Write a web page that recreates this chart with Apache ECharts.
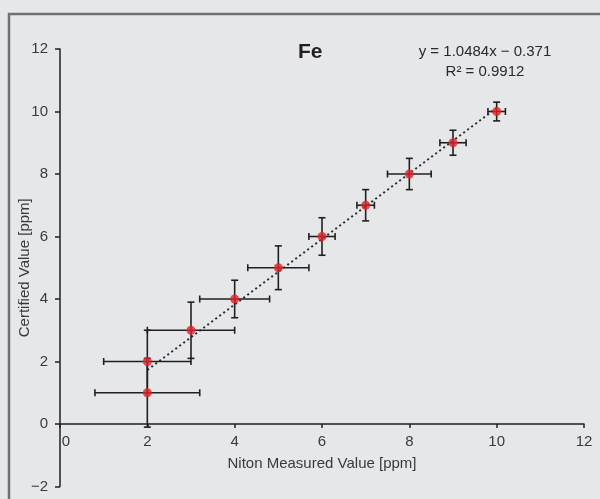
<!DOCTYPE html>
<html>
<head>
<meta charset="utf-8">
<script src="https://cdn.jsdelivr.net/npm/echarts@6/dist/echarts.min.js"></script>
<style>
  html, body { margin: 0; padding: 0; background: #e6e7e8; }
  #chart { width: 600px; height: 499px; }
</style>
</head>
<body>
<div id="chart"></div>
<script>
// Fe calibration: Niton measured vs certified values, with uncertainty on both axes
const measured  = [10, 9, 8, 7, 6, 5, 4, 3, 2, 2];
const certified = [10, 9, 8, 7, 6, 5, 4, 3, 2, 1];
const measuredErr  = [0.2, 0.3, 0.5, 0.2, 0.3, 0.7, 0.8, 1.0, 1.0, 1.2];
const certifiedErr = [0.3, 0.4, 0.5, 0.5, 0.6, 0.7, 0.6, 0.9, 1.0, 1.1];
const xTicks = [0, 2, 4, 6, 8, 10, 12];
const yTicks = [-2, 0, 2, 4, 6, 8, 10, 12];

// least-squares fit of certified on measured
const n = measured.length;
const mx = measured.reduce((a, b) => a + b, 0) / n;
const my = certified.reduce((a, b) => a + b, 0) / n;
let sxx = 0, sxy = 0, syy = 0;
for (let i = 0; i < n; i++) {
  const dx = measured[i] - mx, dy = certified[i] - my;
  sxx += dx * dx; sxy += dx * dy; syy += dy * dy;
}
const slope = sxy / sxx;
const intercept = my - slope * mx;
const r2 = (sxy * sxy) / (sxx * syy);
const xMinFit = Math.min(...measured), xMaxFit = Math.max(...measured);
const fitLine = [[xMinFit, slope * xMinFit + intercept], [xMaxFit, slope * xMaxFit + intercept]];
const eqText = 'y = ' + slope.toFixed(4) + 'x ' + (intercept < 0 ? '\u2212 ' : '+ ') + Math.abs(intercept).toFixed(3);
const r2Text = 'R\u00b2 = ' + r2.toFixed(4);

const FONT = '"Liberation Sans", Arial, sans-serif';
const INK = '#231f20';
const TXT = '#3a3a3a';
const points = measured.map((x, i) => [x, certified[i]]);
const errData = measured.map((x, i) => [x, certified[i], measuredErr[i], certifiedErr[i]]);

const chart = echarts.init(document.getElementById('chart'), null, { renderer: 'canvas' });
chart.setOption({
  backgroundColor: '#e6e7e8',
  animation: false,
  grid: { left: 60, right: 16, top: 49, bottom: 12.5, containLabel: false, outerBoundsMode: 'none' },
  xAxis: {
    type: 'value', min: xTicks[0], max: xTicks[xTicks.length - 1], interval: 2,
    // the axis line sits on y = 0; labels and name are pulled up from the grid edge to follow it
    name: 'Niton Measured Value [ppm]', nameLocation: 'middle', nameGap: -30, nameMoveOverlap: false,
    nameTextStyle: { fontFamily: FONT, fontSize: 15, color: TXT },
    axisLine: { onZero: true, lineStyle: { color: INK, width: 1.5 } },
    axisTick: { show: true, length: 4, lineStyle: { color: INK, width: 1.5 } },
    axisLabel: {
      fontFamily: FONT, fontSize: 15, color: TXT, margin: -52,
      formatter: v => v === 0 ? '{z|0}' : String(v),
      rich: { z: { fontFamily: FONT, fontSize: 15, color: TXT, padding: [0, 0, 0, 12] } }
    },
    splitLine: { show: false }
  },
  yAxis: {
    type: 'value', min: yTicks[0], max: yTicks[yTicks.length - 1], interval: 2,
    name: 'Certified Value [ppm]', nameLocation: 'middle', nameGap: 28, nameMoveOverlap: false,
    nameTextStyle: { fontFamily: FONT, fontSize: 15, color: TXT },
    axisLine: { show: true, onZero: false, lineStyle: { color: INK, width: 1.5 } },
    axisTick: { show: true, length: 5, lineStyle: { color: INK, width: 1.5 } },
    axisLabel: {
      fontFamily: FONT, fontSize: 15, color: TXT, margin: 12,
      formatter: v => v < 0 ? '\u2212' + Math.abs(v) : String(v)
    },
    splitLine: { show: false }
  },
  graphic: [
    { type: 'rect', z: -1, silent: true,
      shape: { x: 9, y: 14, width: 640, height: 540 },
      style: { fill: 'none', stroke: '#6f7072', lineWidth: 2.5 } },
    { type: 'text', left: 298, top: 42,
      style: { text: 'Fe', font: 'bold 21px ' + FONT, fill: INK } },
    { type: 'text', x: 485, y: 52,
      style: { text: eqText, font: '15px ' + FONT, fill: '#2a2a2a', align: 'center', verticalAlign: 'middle' } },
    { type: 'text', x: 485, y: 72,
      style: { text: r2Text, font: '15px ' + FONT, fill: '#2a2a2a', align: 'center', verticalAlign: 'middle' } }
  ],
  series: [
    {
      type: 'line', data: fitLine, showSymbol: false, silent: true, z: 2,
      lineStyle: { color: '#2b2b2b', width: 2, type: [2, 3] }
    },
    {
      type: 'custom', data: errData, z: 3, silent: true,
      renderItem: (params, api) => {
        const x = api.value(0), y = api.value(1), ex = api.value(2), ey = api.value(3);
        const l = api.coord([x - ex, y]), r = api.coord([x + ex, y]);
        const t = api.coord([x, y + ey]), b = api.coord([x, y - ey]);
        const cap = 3.5;
        const st = { stroke: INK, lineWidth: 1.6 };
        const seg = (x1, y1, x2, y2) => ({ type: 'line', shape: { x1, y1, x2, y2 }, style: st });
        return {
          type: 'group',
          children: [
            seg(l[0], l[1], r[0], r[1]),
            seg(l[0], l[1] - cap, l[0], l[1] + cap),
            seg(r[0], r[1] - cap, r[0], r[1] + cap),
            seg(t[0], t[1], b[0], b[1]),
            seg(t[0] - cap, t[1], t[0] + cap, t[1]),
            seg(b[0] - cap, b[1], b[0] + cap, b[1])
          ]
        };
      }
    },
    {
      type: 'scatter', data: points, symbol: 'circle', symbolSize: 9, z: 4,
      itemStyle: { color: '#e4222a' }
    }
  ]
});
</script>
</body>
</html>
